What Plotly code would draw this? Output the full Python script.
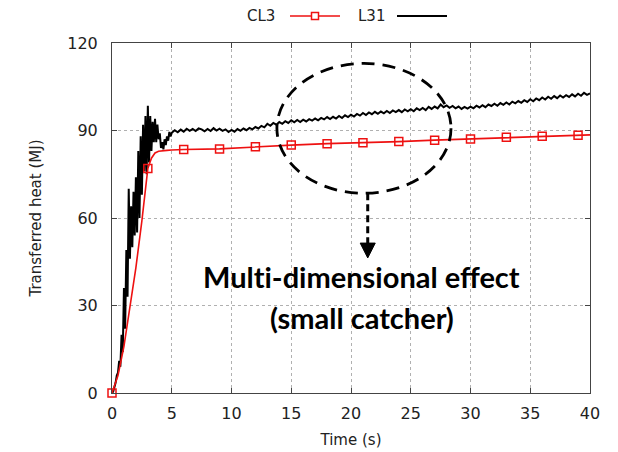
import plotly.graph_objects as go

# ---------------- data ----------------
# CL3 (red line with square markers)
cl3_t = [0, 0.5, 1.0, 1.5, 2.0, 2.5, 3.0, 3.3, 3.6, 3.9, 4.2, 4.6, 5.0, 6, 9, 12, 15, 18, 21, 24, 27, 30, 33, 36, 39, 40]
cl3_v = [0, 6, 16, 29, 43, 59, 77, 80.5, 82.3, 82.9, 83.1, 83.2, 83.3, 83.5, 83.7, 84.4, 85.0, 85.5, 85.8, 86.2, 86.7, 87.1, 87.7, 88.0, 88.4, 88.5]
cl3_marker_every = 3  # markers every 3 s

# L31 (black noisy line), early transient sampled at 0.1 s
l31_early_t = [round(i * 0.1, 1) for i in range(50)]
l31_early_v = [0.0, 0.5, 2, 3.5, 6, 7, 11, 9, 20, 14,
               36, 22, 49, 33, 70, 46, 64, 50, 69, 54,
               74, 55, 83, 60, 88, 68, 92, 76, 95, 75,
               98.5, 79, 95, 83, 93, 86, 94, 86, 92, 87,
               89, 84, 86, 83.5, 87, 85, 88, 86.5, 89.5, 88]
# later part sampled at 0.25 s from 5 s to 40 s
l31_late_t = [5 + i * 0.25 for i in range(141)]
l31_late_v = [
    89.2, 90.1, 89.4, 90.3,   # 5
    89.6, 90.6, 89.9, 90.5,   # 6
    89.8, 90.7, 90.4, 89.7,   # 7
    90.5, 89.8, 90.8, 90.0,   # 8
    90.6, 89.9, 90.4, 89.5,   # 9
    90.2, 89.6, 90.5, 89.9,   # 10
    90.7, 90.1, 90.9, 90.4,   # 11
    91.2, 90.7, 91.6, 91.1,   # 12
    92.3, 91.6, 92.6, 92.0,   # 13
    92.9, 92.3, 93.2, 92.6,   # 14
    93.5, 92.8, 93.6, 92.9,   # 15
    93.7, 93.1, 93.9, 93.4,   # 16
    94.1, 93.5, 94.3, 93.8,   # 17
    94.6, 93.9, 94.7, 94.1,   # 18
    95.0, 94.3, 95.2, 94.6,   # 19
    95.4, 94.8, 95.7, 95.1,   # 20
    96.0, 95.3, 96.2, 95.6,   # 21
    96.4, 95.7, 96.5, 95.9,   # 22
    96.7, 96.0, 96.9, 96.3,   # 23
    97.0, 96.3, 97.2, 96.6,   # 24
    97.3, 96.6, 97.6, 97.0,   # 25
    97.7, 97.0, 98.1, 97.4,   # 26
    98.2, 97.6, 98.9, 98.0,   # 27
    98.6, 97.8, 98.4, 97.6,   # 28
    98.2, 97.4, 98.1, 97.5,   # 29
    98.2, 97.6, 98.5, 97.9,   # 30
    98.7, 98.0, 98.9, 98.4,   # 31
    99.2, 98.5, 99.4, 98.8,   # 32
    99.6, 98.9, 99.9, 99.3,   # 33
    100.1, 99.5, 100.4, 99.8,  # 34
    100.7, 100.0, 101.0, 100.4,  # 35
    101.3, 100.6, 101.6, 100.9,  # 36
    101.8, 101.1, 102.0, 101.3,  # 37
    102.1, 101.5, 102.4, 101.7,  # 38
    102.6, 101.9, 102.9, 102.2,  # 39
    102.7,                       # 40
]

x_ticks = [0, 5, 10, 15, 20, 25, 30, 35, 40]
y_ticks = [0, 30, 60, 90, 120]
x_title = "Time (s)"
y_title = "Transferred heat (MJ)"
series_names = ["CL3", "L31"]
# \u200c keeps the font from fusing "ti" into a ligature
note_lines = ["Mult\u200ci-dimensional effect", "(small catcher)"]

# region of interest (ellipse) and arrow, in data units
ellipse_t = [13.8, 28.37]
ellipse_v = [68.5, 113.0]
arrow_t = 21.4
arrow_v = [68.5, 51.4, 46.3]

# ---------------- figure ----------------
l31_t = l31_early_t + l31_late_t
l31_v = l31_early_v + l31_late_v

mk_t = [t for t in cl3_t if t % cl3_marker_every == 0]
mk_v = [v for t, v in zip(cl3_t, cl3_v) if t % cl3_marker_every == 0]

RED = "#ee1111"
fig = go.Figure()
fig.add_trace(go.Scatter(x=l31_t, y=l31_v, mode="lines", name=series_names[1],
                         line=dict(color="black", width=2), showlegend=False))
fig.add_trace(go.Scatter(x=cl3_t, y=cl3_v, mode="lines", name=series_names[0],
                         line=dict(color=RED, width=1.6), showlegend=False))
fig.add_trace(go.Scatter(x=mk_t, y=mk_v, mode="markers", name=series_names[0],
                         marker=dict(symbol="square-open", size=8, color=RED,
                                     line=dict(width=1.5, color=RED)),
                         showlegend=False, cliponaxis=False))

FONT = "DejaVu Sans"
axis_common = dict(showline=True, linecolor="#444", linewidth=1, mirror="ticks",
                   ticks="inside", ticklen=5, tickcolor="#444", automargin=False,
                   showgrid=True, gridcolor="#b0b0b0", griddash="dot", gridwidth=1,
                   zeroline=False, tickfont=dict(family=FONT, size=16, color="#222"))
fig.update_xaxes(range=[0, 40], tickvals=x_ticks, ticktext=[str(v) for v in x_ticks],
                 title=dict(text=x_title, font=dict(family=FONT, size=15, color="#222"), standoff=12),
                 ticklabelstandoff=6, **axis_common)
fig.update_yaxes(range=[0, 120], tickvals=y_ticks, ticktext=[str(v) for v in y_ticks],
                 title=dict(text=y_title, font=dict(family=FONT, size=15, color="#222"), standoff=22),
                 ticklabelstandoff=10, **axis_common)

shapes = []
# dashed ellipse
shapes.append(dict(type="circle", xref="x", yref="y", x0=ellipse_t[0], x1=ellipse_t[1],
                   y0=ellipse_v[0], y1=ellipse_v[1], line=dict(color="black", width=2.8, dash="13px,8px")))
# dashed arrow shaft
shapes.append(dict(type="line", xref="x", yref="y", x0=arrow_t, x1=arrow_t,
                   y0=arrow_v[0], y1=arrow_v[1], line=dict(color="black", width=3, dash="7px,4px")))
# arrow head
shapes.append(dict(type="path", xref="x", yref="y",
                   path=f"M {arrow_t-0.63},{arrow_v[1]} L {arrow_t+0.63},{arrow_v[1]} L {arrow_t},{arrow_v[2]} Z",
                   fillcolor="black", line=dict(color="black", width=1)))

# custom legend (label before sample, gnuplot style)
def px2paper_x(px):
    return (px - 112) / 478.0

def px2paper_y(py):
    return (393 - py) / 350.0

ly = px2paper_y(16)
shapes.append(dict(type="line", xref="paper", yref="paper", x0=px2paper_x(290), x1=px2paper_x(340),
                   y0=ly, y1=ly, line=dict(color=RED, width=1.6)))
shapes.append(dict(type="rect", xref="paper", yref="paper", xsizemode="pixel", ysizemode="pixel",
                   xanchor=px2paper_x(315), yanchor=ly, x0=-3.5, x1=3.5, y0=-3.5, y1=3.5,
                   line=dict(color=RED, width=1.5), fillcolor="white"))
shapes.append(dict(type="line", xref="paper", yref="paper", x0=px2paper_x(397), x1=px2paper_x(447),
                   y0=ly, y1=ly, line=dict(color="black", width=1.8)))

annotations = [
    dict(text=series_names[0], xref="paper", yref="paper", x=px2paper_x(277), y=ly,
         xanchor="right", yanchor="middle", showarrow=False, font=dict(family=FONT, size=15, color="#222")),
    dict(text=series_names[1], xref="paper", yref="paper", x=px2paper_x(356), y=ly,
         xanchor="left", yanchor="middle", showarrow=False, font=dict(family=FONT, size=15, color="#222")),
    dict(text=f"<b>{note_lines[0]}</b>", xref="x", yref="y", x=20.9, y=39.8,
         xanchor="center", yanchor="middle", showarrow=False, font=dict(family="Lato", size=29, color="black")),
    dict(text=f"<b>{note_lines[1]}</b>", xref="x", yref="y", x=20.9, y=26.0,
         xanchor="center", yanchor="middle", showarrow=False, font=dict(family="Lato", size=29, color="black")),
]

fig.update_layout(width=618, height=452, margin=dict(l=112, r=28, t=43, b=59),
                  paper_bgcolor="white", plot_bgcolor="white", showlegend=False,
                  shapes=shapes, annotations=annotations)

fig.write_html("out.html")
